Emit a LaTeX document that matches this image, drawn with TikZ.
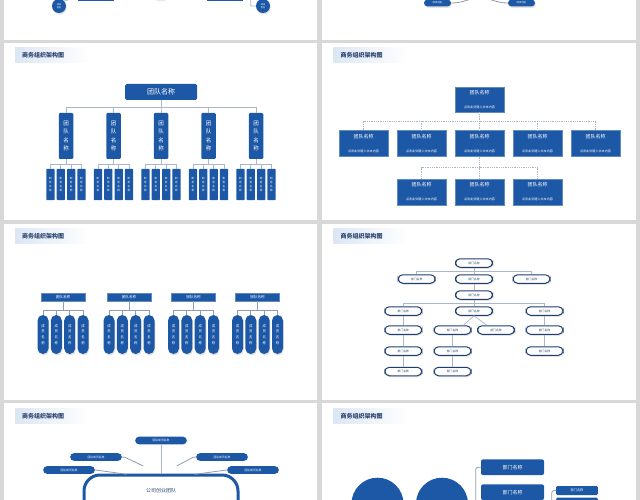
\documentclass[tikz,border=0pt]{standalone}
\usepackage{fontspec}
\setmainfont{Noto Sans CJK SC}
\usetikzlibrary{shadows,calc}
\definecolor{bgg}{HTML}{D8D8D8}
\definecolor{mb}{HTML}{1D58A6}
\definecolor{dkb}{HTML}{1F3F6E}
\definecolor{lnc}{HTML}{A9B7C7}
\definecolor{lnd}{HTML}{8E9DB2}
\definecolor{ttl}{HTML}{2C4470}
\definecolor{tbg}{HTML}{DCE7F4}
\definecolor{lcy}{HTML}{D9EEF8}
\newcommand{\stitle}[3]{%
  \shade[left color=tbg, right color=white] (#2-28,#3-7.5) rectangle (#2+47,#3+7.5);
  \node[ttlfont] (#1) at (#2,#3) {商务组织架构图};}
\newcommand{\dtext}{{\fontsize{5}{6}\selectfont 团队名称}\\[2pt]{\fontsize{3.1}{4}\selectfont 点击此处键入文本内容}}
\begin{document}
\begin{tikzpicture}[x=1pt,y=-1pt,
  ttlfont/.style={font=\fontsize{6}{6}\selectfont\bfseries, text=ttl, inner sep=0pt},
  slide/.style={fill=white},
  shd/.style={drop shadow={opacity=0.22, shadow xshift=0.8pt, shadow yshift=-1.5pt}},
  bluebox/.style={fill=mb, text=white, inner sep=0pt, align=center},
  conn/.style={draw=lnc, line width=0.7pt},
  dconn/.style={draw=lnc, line width=0.6pt, dash pattern=on 1pt off 0.8pt},
  gline/.style={draw=lnd, line width=0.8pt},
  cbig/.style={bluebox, rounded corners=1.5pt, minimum width=72, minimum height=16, font=\fontsize{7}{7}\selectfont},
  cteam/.style={bluebox, rounded corners=1.2pt, minimum width=14.5, minimum height=46, font=\fontsize{5.5}{8.3}\selectfont},
  csub/.style={bluebox, rounded corners=0.6pt, minimum width=8.3, minimum height=31, font=\fontsize{2.6}{4.2}\selectfont},
  dbox/.style={bluebox, draw=mb!70!white, line width=0.3pt, minimum width=49, minimum height=26},
  ehead/.style={bluebox, draw=mb!70!white, line width=0.3pt, minimum width=44, minimum height=8, font=\fontsize{3.6}{3.6}\selectfont},
  epill/.style={bluebox, rounded corners=5.5pt, minimum width=11, minimum height=39, font=\fontsize{3.4}{5.6}\selectfont, shd},
  fnode/.style={draw=dkb, line width=1pt, fill=white, text=dkb, rounded corners=4.5pt, minimum width=37, minimum height=8.5, inner sep=0pt, font=\fontsize{2.8}{2.8}\selectfont, shd},
  gpill/.style={bluebox, rounded corners=3.8pt, minimum width=51.7, minimum height=7.6, font=\fontsize{2.8}{2.8}\selectfont},
  bpill/.style={bluebox, rounded corners=3.3pt, minimum width=27, minimum height=6.7, font=\fontsize{2.4}{2.4}\selectfont, shd},
  acirc/.style={bluebox, circle, minimum size=14, font=\fontsize{2.2}{3}\selectfont, shd},
  hrect/.style={bluebox, rounded corners=2pt, minimum width=63, minimum height=15.7, font=\fontsize{5}{5}\selectfont},
  hsmall/.style={bluebox, rounded corners=1.2pt, minimum width=41.7, minimum height=9, font=\fontsize{3.2}{3.2}\selectfont}
]
\useasboundingbox (0,0) rectangle (640,500);
\clip (0,0) rectangle (640,500);
\fill[bgg] (0,0) rectangle (640,500);
% slide backgrounds
\fill[slide] (4,-10) rectangle (317,40);
\fill[slide] (322,-10) rectangle (636,40);
\fill[slide] (4,43) rectangle (317,220);
\fill[slide] (322,43) rectangle (636,220);
\fill[slide] (4,224) rectangle (317,400);
\fill[slide] (322,224) rectangle (636,400);
\fill[slide] (4,403) rectangle (317,510);
\fill[slide] (322,403) rectangle (636,510);

% ---------- Slide A (top left, partial)
\fill[lcy] (161,-9) circle (10.5);
\node[bluebox, minimum width=36, minimum height=8] (ab1) at (96,-3) {};
\node[bluebox, minimum width=36, minimum height=8] (ab2) at (225,-3) {};
\node[acirc] (a1) at (59,6) {成员\\姓名};
\node[acirc] (a2) at (263,6) {成员\\姓名};
\coordinate (aq1) at (72,-1);
\coordinate (aq2) at (250.7,-1);
\draw[conn] (a1.north east) -- (aq1);
\draw[conn] (a2.west) -- ++(-5,0) -- (aq2);

% ---------- Slide B (top right, partial)
\node[bpill] (b1) at (437.5,3) {成员姓名};
\node[bpill] (b2) at (521.5,3) {成员姓名};
\coordinate (bt1) at (473,-1);
\coordinate (bt2) at (487,-1);
\draw[gline] (b1.east) .. controls (462,3) and (465,0) .. (bt1);
\draw[gline] (b2.west) .. controls (498,3) and (494,0) .. (bt2);

% ---------- Slide C
\stitle{tC}{43}{55.5}
\node[cbig] (c0) at (161,92) {团队名称};
\foreach \i/\x in {1/66,2/113.5,3/161,4/208.5,5/256}{
  \node[cteam] (c\i) at (\x,136) {团\\队\\名\\称};
  \draw[conn] (c0.south) -- ++(0,6.7) -| (c\i.north);
  \foreach \j/\o in {1/-15.5,2/-5.2,3/5.2,4/15.5}{
    \node[csub] (s\i\j) at ({\x+\o},184.5) {职\\务\\名\\称};
    \draw[conn] (c\i.south) -- ++(0,5) -| (s\i\j.north);
  }
}

% ---------- Slide D
\stitle{tD}{361.5}{55.5}
\node[dbox, minimum height=25] (d0) at (479.5,99.5) {\dtext};
\foreach \i/\x in {1/363.5,2/421.5,3/479.5,4/537.5,5/595.5}{
  \node[dbox] (d1\i) at (\x,143.5) {\dtext};
  \draw[dconn] (d0.south) -- ++(0,9) -| (d1\i.north);
}
\foreach \i/\x in {1/421.5,2/479.5,3/537.5}{
  \node[dbox] (d2\i) at (\x,192) {\dtext};
  \draw[dconn] (d13.south) -- ++(0,11) -| (d2\i.north);
}

% ---------- Slide E
\stitle{tE}{43}{236}
\foreach \i/\x in {1/63,2/129,3/193.5,4/257.5}{
  \node[ehead] (eh\i) at (\x,296.7) {团队名称};
  \foreach \j/\o in {1/-20,2/-6.7,3/6.7,4/20}{
    \node[epill] (ep\i\j) at ({\x+\o},334.5) {成\\员\\名\\称};
    \draw[conn, draw=lnd] (eh\i.south) -- ++(0,9.3) -| (ep\i\j.north);
  }
}

% ---------- Slide F
\stitle{tF}{361.5}{236}
\foreach \n/\x/\y in {0/474/263, 1/416.7/279, 2/474/279, 3/531.5/279, 4/474/295,
  5/403.3/311, 6/474/311, 7/544.5/311, 8/403.3/330, 9/403.3/351, 10/403.3/371.5,
  11/452.5/330, 12/496/330, 13/452.5/351, 14/452.5/371.5, 15/544.5/330, 16/544.5/351}{
  \node[fnode] (f\n) at (\x,\y) {部门名称};
}
\draw[conn] (f0.south) -- ++(0,3.5) -| (f1.north);
\draw[conn] (f0.south) -- ++(0,3.5) -| (f3.north);
\draw[conn] (f0.south) -- (f2.north);
\draw[conn] (f2.south) -- (f4.north);
\draw[conn] (f4.south) -- ++(0,3.8) -| (f5.north);
\draw[conn] (f4.south) -- ++(0,3.8) -| (f7.north);
\draw[conn] (f4.south) -- (f6.north);
\draw[conn] (f5.south) -- (f8.north);
\draw[conn] (f8.south) -- (f9.north);
\draw[conn] (f9.south) -- (f10.north);
\draw[conn] (f6.south) -- ($(f11.north)+(10.8,0)$);
\draw[conn] (f6.south) -- ($(f12.north)+(-9.3,0)$);
\draw[conn] (f11.south) -- (f13.north);
\draw[conn] (f13.south) -- (f14.north);
\draw[conn] (f7.south) -- (f15.north);
\draw[conn] (f15.south) -- (f16.north);

% ---------- Slide G
\stitle{tG}{43}{416}
\node[draw=mb, line width=3pt, rounded corners=16pt, fill=white, minimum width=154, minimum height=70, inner sep=0pt] (gbig) at (161,510) {};
\node[font=\fontsize{5}{5}\selectfont, text=ttl, inner sep=0pt] (gt) at (161,490.7) {公司创业团队};
\node[gpill] (g0) at (161,440.5) {团队成员名称};
\node[gpill] (g1) at (96,457) {团队成员名称};
\node[gpill] (g2) at (69,470) {团队成员名称};
\node[gpill] (g3) at (222,457) {团队成员名称};
\node[gpill] (g4) at (253,470) {团队成员名称};
\coordinate (ga) at (143.3,466);
\coordinate (gb) at (126.7,474.3);
\coordinate (gc) at (176.7,466);
\coordinate (gd) at (195,474.3);
\draw[gline, draw=lnc, line width=1pt] (g0.south) -- (gbig.north);
\draw[gline] (g1.east) -- ++(3,0.3) -- (ga);
\draw[gline] (g2.east) -- ++(5,0.6) -- (gb);
\draw[gline] (g3.west) -- ++(-3,0.3) -- (gc);
\draw[gline] (g4.west) -- ++(-5,0.6) -- (gd);

% ---------- Slide H
\stitle{tH}{361.5}{416}
\node[bluebox, circle, minimum size=52] (h1) at (377.5,503.7) {};
\node[bluebox, circle, minimum size=52] (h2) at (442,503.7) {};
\node[hrect] (hr1) at (512.5,467.2) {部门名称};
\node[hrect] (hr2) at (512.5,492.2) {部门名称};
\node[hsmall] (hs1) at (577,490.5) {部门名称};
\node[hsmall] (hs2) at (577,502.2) {};
\coordinate (hb1) at (475.7,520);
\coordinate (hb2) at (551.7,520);
\draw[gline, rounded corners=2.5pt] (hr1.west) -| (hb1);
\draw[gline, rounded corners=2.5pt] (hs1.west) -| (hb2);
\end{tikzpicture}
\end{document}
